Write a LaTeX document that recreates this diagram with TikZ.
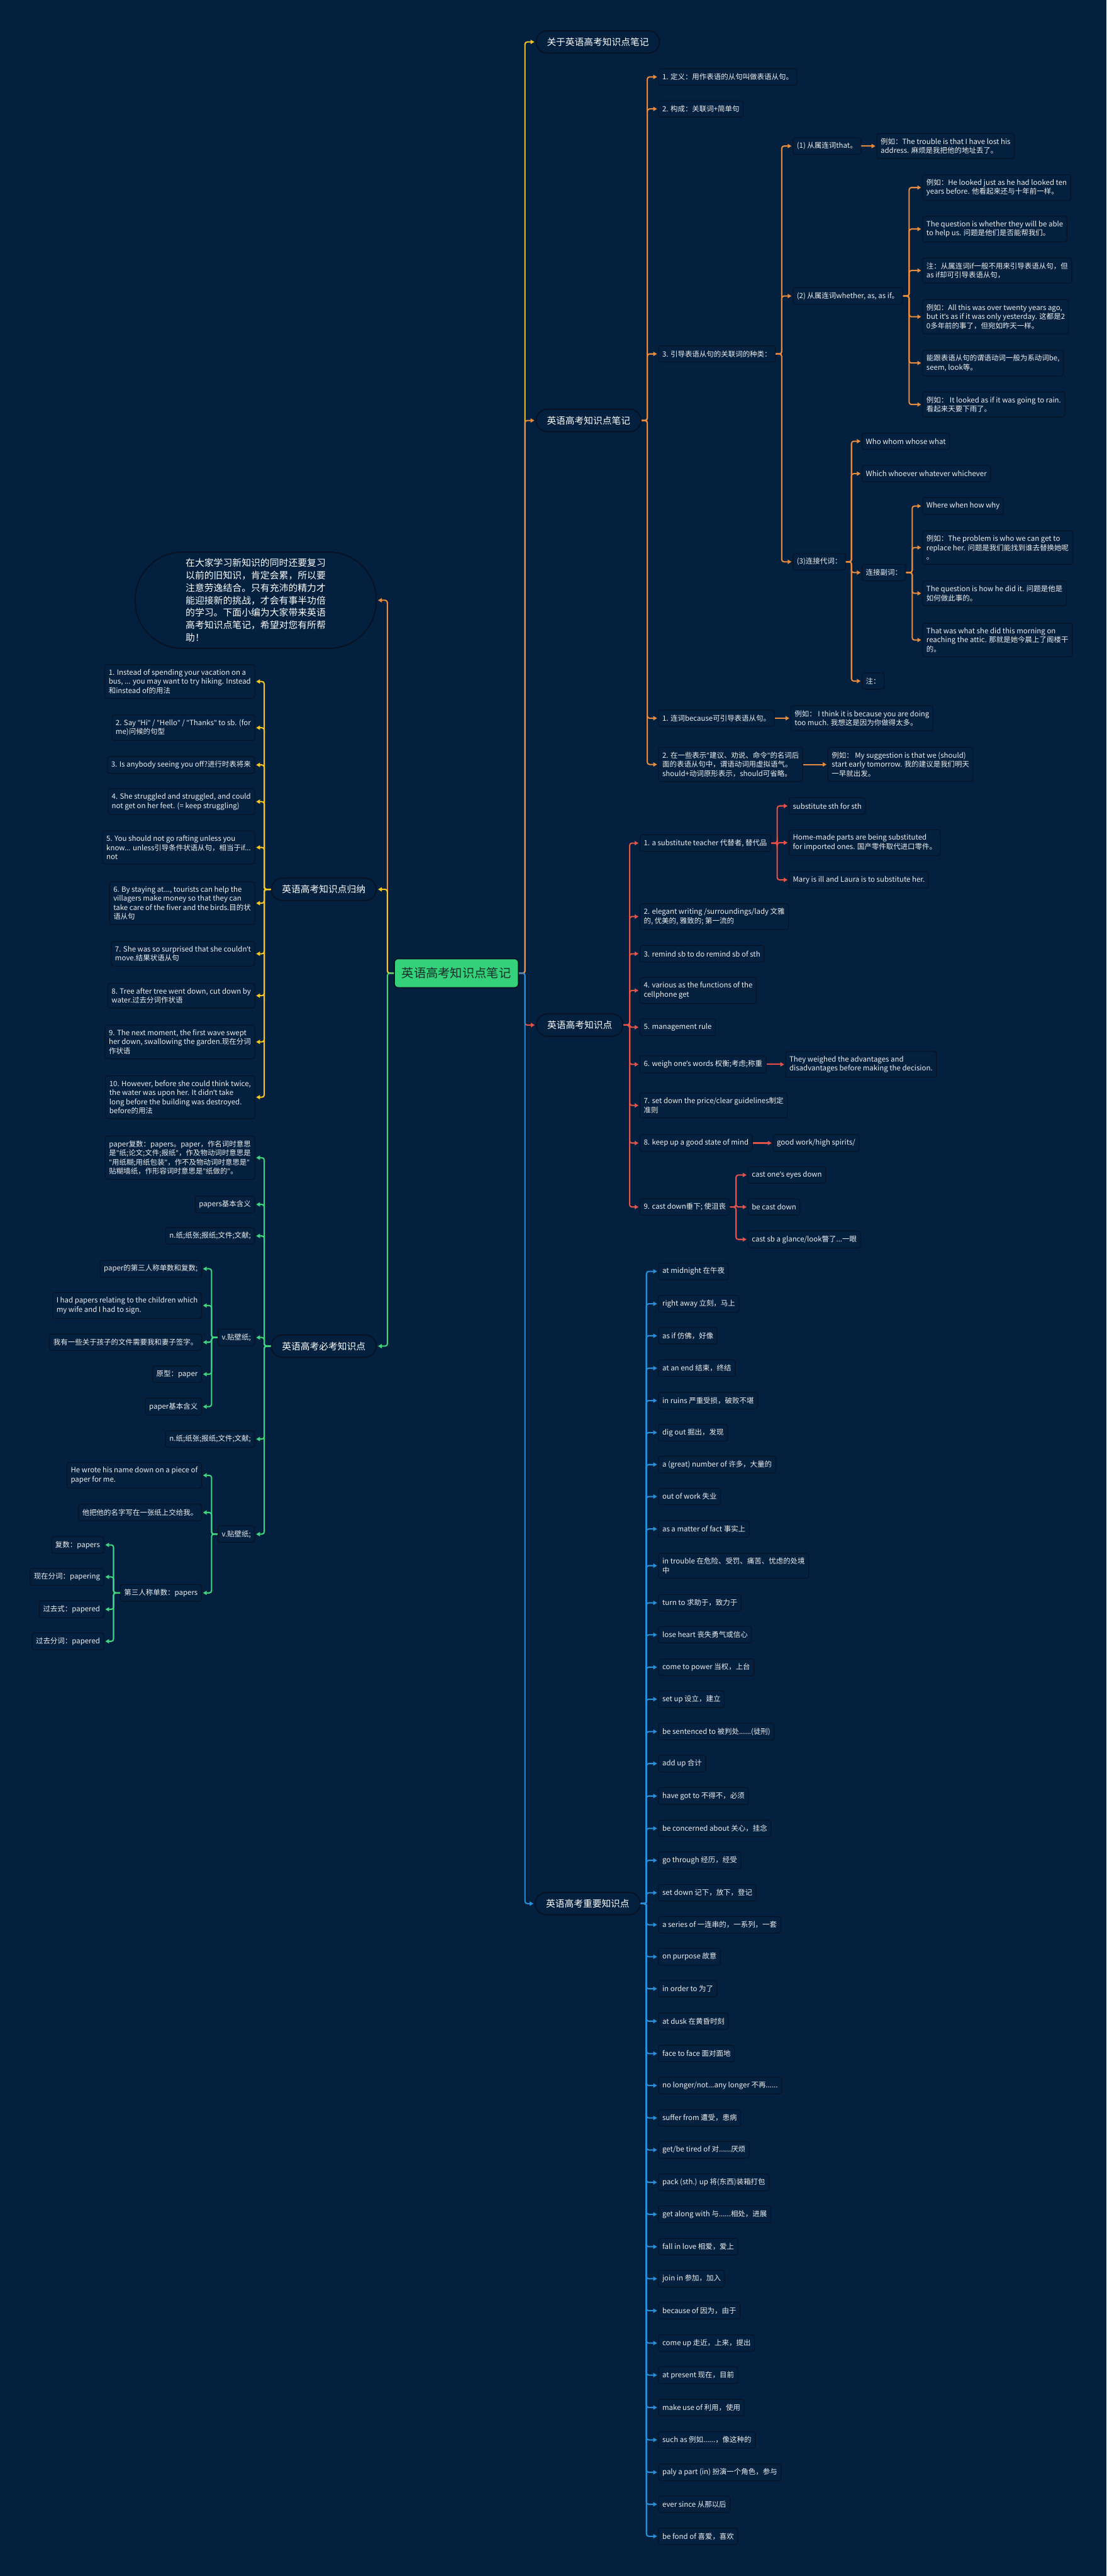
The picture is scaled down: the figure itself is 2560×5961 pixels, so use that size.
\documentclass[tikz,border=0pt]{standalone}
\usepackage{fontspec}
\setmainfont{Noto Sans CJK SC}
\newfontfamily\mmlatin{Noto Sans}
\usetikzlibrary{arrows.meta}

\definecolor{mmbg}{RGB}{3,32,62}
\definecolor{mmbox}{RGB}{8,18,34}
\definecolor{mmgreen}{RGB}{52,208,122}
\definecolor{mmink}{RGB}{24,46,40}
\definecolor{mmyellow}{RGB}{246,198,36}
\definecolor{mmorange}{RGB}{234,140,62}
\definecolor{mmred}{RGB}{230,82,72}
\definecolor{mmblue}{RGB}{42,142,216}
\definecolor{mmlime}{RGB}{64,214,128}

\newcommand\mmqt{{\mmlatin "}}
\newcommand\mmap{{\mmlatin ’}}

\tikzset{
  mmroot/.style={draw=mmbox, line width=1.4pt, fill=mmgreen, text=mmink, rounded corners=5pt,
    minimum width=5.74cm, minimum height=1.34cm, font=\fontsize{16}{19}\selectfont},
  mmtopic/.style={draw=mmbox, line width=1.6pt, fill=mmbg, text=white, rounded corners=0.52cm,
    minimum height=1.04cm, inner xsep=0.5cm, font=\fontsize{12.2}{15}\selectfont},
  mmbubble/.style={draw=mmbox, line width=1.6pt, fill=mmbg, text=white, rounded corners=2.2cm,
    minimum width=11.16cm, minimum height=4.46cm, align=left, font=\fontsize{12.3}{16.4}\selectfont},
  mmleaf/.style={draw=mmbox, line width=0.9pt, fill=mmbg, text=white!94!black, rounded corners=3pt,
    minimum height=0.76cm, inner xsep=5pt, inner ysep=6pt, align=left, font=\fontsize{9.5}{12}\selectfont},
  mmlink/.style={line width=1.7pt, rounded corners=3pt, -{Triangle[length=5pt,width=5.5pt]}, shorten >=1.5pt}
}

\begin{document}
\begin{tikzpicture}[x=0.02cm, y=-0.02cm]
\fill[mmbg] (0,0) rectangle (2560,5961);
\useasboundingbox (0,0) rectangle (2560,5961);

% root and main topics
\node[mmroot] (r) at (1056,2252) {英语高考知识点笔记};
\node[mmtopic, anchor=west] (t1) at (1239,97) {关于英语高考知识点笔记};
\node[mmtopic, anchor=west] (t2) at (1239,973) {英语高考知识点笔记};
\node[mmtopic, anchor=west] (t3) at (1240,2372) {英语高考知识点};
\node[mmtopic, anchor=west] (t4) at (1237,4405) {英语高考重要知识点};
\node[mmbubble, anchor=east] (t5) at (872,1389) {在大家学习新知识的同时还要复习\\以前的旧知识，肯定会累，所以要\\注意劳逸结合。只有充沛的精力才\\能迎接新的挑战，才会有事半功倍\\的学习。下面小编为大家带来英语\\高考知识点笔记，希望对您有所帮\\助！};
\node[mmtopic, anchor=east] (t6) at (872,2058) {英语高考知识点归纳};
\node[mmtopic, anchor=east] (t7) at (872,3115) {英语高考必考知识点};

\draw[mmlink, mmyellow] (r.east) -- ++(14,0) |- (t1.west);
\draw[mmlink, mmorange] (r.east) -- ++(14,0) |- (t2.west);
\draw[mmlink, mmred] (r.east) -- ++(14,0) |- (t3.west);
\draw[mmlink, mmblue] (r.east) -- ++(14,0) |- (t4.west);
\draw[mmlink, mmorange] (r.west) -- ++(-15,0) |- (t5.east);
\draw[mmlink, mmyellow] (r.west) -- ++(-15,0) |- (t6.east);
\draw[mmlink, mmlime] (r.west) -- ++(-15,0) |- (t7.east);

% orange branch
\node[mmleaf, anchor=west] (n1) at (1523,178) {1. 定义：用作表语的从句叫做表语从句。};
\node[mmleaf, anchor=west] (n2) at (1523,252) {2. 构成：关联词+简单句};
\node[mmleaf, anchor=west] (n3) at (1523,819) {3. 引导表语从句的关联词的种类：};
\node[mmleaf, anchor=west] (n4) at (1523,1662) {1. 连词because可引导表语从句。};
\node[mmleaf, anchor=west] (n5) at (1523,1769) {2. 在一些表示\mmqt 建议、劝说、命令\mmqt 的名词后\\面的表语从句中，谓语动词用虚拟语气。\\should+动词原形表示，should可省略。};
\node[mmleaf, anchor=west] (n31) at (1834,338) {(1) 从属连词that。};
\node[mmleaf, anchor=west] (n32) at (1834,685) {(2) 从属连词whether, as, as if。};
\node[mmleaf, anchor=west] (n33) at (1834,1300) {(3)连接代词：};
\node[mmleaf, anchor=west] (n31a) at (2028,338) {例如：The trouble is that I have lost his\\address. 麻烦是我把他的地址丢了。};
\node[mmleaf, anchor=west] (n32a) at (2134,434) {例如：He looked just as he had looked ten\\years before. 他看起来还与十年前一样。};
\node[mmleaf, anchor=west] (n32b) at (2134,530) {The question is whether they will be able\\to help us. 问题是他们是否能帮我们。};
\node[mmleaf, anchor=west] (n32c) at (2134,626) {注：从属连词if一般不用来引导表语从句，但\\as if却可引导表语从句，};
\node[mmleaf, anchor=west] (n32d) at (2134,733) {例如：All this was over twenty years ago,\\but it\mmap s as if it was only yesterday. 这都是2\\0多年前的事了，但宛如昨天一样。};
\node[mmleaf, anchor=west] (n32e) at (2134,840) {能跟表语从句的谓语动词一般为系动词be,\\seem, look等。};
\node[mmleaf, anchor=west] (n32f) at (2134,936) {例如： It looked as if it was going to rain.\\看起来天要下雨了。};
\node[mmleaf, anchor=west] (n33a) at (1994,1021) {Who whom whose what};
\node[mmleaf, anchor=west] (n33b) at (1994,1096) {Which whoever whatever whichever};
\node[mmleaf, anchor=west] (n33c) at (1994,1325) {连接副词：};
\node[mmleaf, anchor=west] (n33d) at (1994,1576) {注：};
\node[mmleaf, anchor=west] (n33c1) at (2134,1171) {Where when how why};
\node[mmleaf, anchor=west] (n33c2) at (2134,1267) {例如：The problem is who we can get to\\replace her. 问题是我们能找到谁去替换她呢\\。};
\node[mmleaf, anchor=west] (n33c3) at (2134,1373) {The question is how he did it. 问题是他是\\如何做此事的。};
\node[mmleaf, anchor=west] (n33c4) at (2134,1481) {That was what she did this morning on\\reaching the attic. 那就是她今晨上了阁楼干\\的。};
\node[mmleaf, anchor=west] (n4a) at (1829,1662) {例如： I think it is because you are doing\\too much. 我想这是因为你做得太多。};
\node[mmleaf, anchor=west] (n5a) at (1915,1769) {例如： My suggestion is that we (should)\\start early tomorrow. 我的建议是我们明天\\一早就出发。};

\draw[mmlink, mmorange] (t2.east) -- ++(13,0) |- (n1.west);
\draw[mmlink, mmorange] (t2.east) -- ++(13,0) |- (n2.west);
\draw[mmlink, mmorange] (t2.east) -- ++(13,0) |- (n3.west);
\draw[mmlink, mmorange] (t2.east) -- ++(13,0) |- (n4.west);
\draw[mmlink, mmorange] (t2.east) -- ++(13,0) |- (n5.west);
\draw[mmlink, mmorange] (n3.east) -- ++(14,0) |- (n31.west);
\draw[mmlink, mmorange] (n3.east) -- ++(14,0) |- (n32.west);
\draw[mmlink, mmorange] (n3.east) -- ++(14,0) |- (n33.west);
\draw[mmlink, mmorange] (n31.east) -- (n31a.west);
\draw[mmlink, mmorange] (n32.east) -- ++(14,0) |- (n32a.west);
\draw[mmlink, mmorange] (n32.east) -- ++(14,0) |- (n32b.west);
\draw[mmlink, mmorange] (n32.east) -- ++(14,0) |- (n32c.west);
\draw[mmlink, mmorange] (n32.east) -- ++(14,0) |- (n32d.west);
\draw[mmlink, mmorange] (n32.east) -- ++(14,0) |- (n32e.west);
\draw[mmlink, mmorange] (n32.east) -- ++(14,0) |- (n32f.west);
\draw[mmlink, mmorange] (n33.east) -- ++(13,0) |- (n33a.west);
\draw[mmlink, mmorange] (n33.east) -- ++(13,0) |- (n33b.west);
\draw[mmlink, mmorange] (n33.east) -- ++(13,0) |- (n33c.west);
\draw[mmlink, mmorange] (n33.east) -- ++(13,0) |- (n33d.west);
\draw[mmlink, mmorange] (n33c.east) -- ++(14,0) |- (n33c1.west);
\draw[mmlink, mmorange] (n33c.east) -- ++(14,0) |- (n33c2.west);
\draw[mmlink, mmorange] (n33c.east) -- ++(14,0) |- (n33c3.west);
\draw[mmlink, mmorange] (n33c.east) -- ++(14,0) |- (n33c4.west);
\draw[mmlink, mmorange] (n4.east) -- (n4a.west);
\draw[mmlink, mmorange] (n5.east) -- (n5a.west);

% red branch
\node[mmleaf, anchor=west] (k1) at (1480,1951) {1. a substitute teacher 代替者, 替代品};
\node[mmleaf, anchor=west] (k2) at (1480,2121) {2. elegant writing /surroundings/lady 文雅\\的, 优美的, 雅致的; 第一流的};
\node[mmleaf, anchor=west] (k3) at (1480,2207) {3. remind sb to do remind sb of sth};
\node[mmleaf, anchor=west] (k4) at (1480,2292) {4. various as the functions of the\\cellphone get};
\node[mmleaf, anchor=west] (k5) at (1480,2377) {5. management rule};
\node[mmleaf, anchor=west] (k6) at (1480,2463) {6. weigh one\mmap s words 权衡;考虑;称重};
\node[mmleaf, anchor=west] (k7) at (1480,2558) {7. set down the price/clear guidelines制定\\准则};
\node[mmleaf, anchor=west] (k8) at (1480,2645) {8. keep up a good state of mind};
\node[mmleaf, anchor=west] (k9) at (1480,2793) {9. cast down垂下; 使沮丧};
\node[mmleaf, anchor=west] (k1a) at (1825,1865) {substitute sth for sth};
\node[mmleaf, anchor=west] (k1b) at (1825,1950) {Home-made parts are being substituted\\for imported ones. 国产零件取代进口零件。};
\node[mmleaf, anchor=west] (k1c) at (1825,2036) {Mary is ill and Laura is to substitute her.};
\node[mmleaf, anchor=west] (k6a) at (1817,2463) {They weighed the advantages and\\disadvantages before making the decision.};
\node[mmleaf, anchor=west] (k8a) at (1788,2645) {good work/high spirits/};
\node[mmleaf, anchor=west] (k9a) at (1730,2719) {cast one\mmap s eyes down};
\node[mmleaf, anchor=west] (k9b) at (1730,2793) {be cast down};
\node[mmleaf, anchor=west] (k9c) at (1730,2868) {cast sb a glance/look瞥了...一眼};

\draw[mmlink, mmred] (t3.east) -- ++(14,0) |- (k1.west);
\draw[mmlink, mmred] (t3.east) -- ++(14,0) |- (k2.west);
\draw[mmlink, mmred] (t3.east) -- ++(14,0) |- (k3.west);
\draw[mmlink, mmred] (t3.east) -- ++(14,0) |- (k4.west);
\draw[mmlink, mmred] (t3.east) -- ++(14,0) |- (k5.west);
\draw[mmlink, mmred] (t3.east) -- ++(14,0) |- (k6.west);
\draw[mmlink, mmred] (t3.east) -- ++(14,0) |- (k7.west);
\draw[mmlink, mmred] (t3.east) -- ++(14,0) |- (k8.west);
\draw[mmlink, mmred] (t3.east) -- ++(14,0) |- (k9.west);
\draw[mmlink, mmred] (k1.east) -- ++(14,0) |- (k1a.west);
\draw[mmlink, mmred] (k1.east) -- ++(14,0) |- (k1b.west);
\draw[mmlink, mmred] (k1.east) -- ++(14,0) |- (k1c.west);
\draw[mmlink, mmred] (k6.east) -- (k6a.west);
\draw[mmlink, mmred] (k8.east) -- (k8a.west);
\draw[mmlink, mmred] (k9.east) -- ++(14,0) |- (k9a.west);
\draw[mmlink, mmred] (k9.east) -- ++(14,0) |- (k9b.west);
\draw[mmlink, mmred] (k9.east) -- ++(14,0) |- (k9c.west);

% blue branch
\node[mmleaf, anchor=west] (m1) at (1523,2942) {at midnight 在午夜};
\node[mmleaf, anchor=west] (m2) at (1523,3017) {right away 立刻，马上};
\node[mmleaf, anchor=west] (m3) at (1523,3091) {as if 仿佛，好像};
\node[mmleaf, anchor=west] (m4) at (1523,3166) {at an end 结束，终结};
\node[mmleaf, anchor=west] (m5) at (1523,3241) {in ruins 严重受损，破败不堪};
\node[mmleaf, anchor=west] (m6) at (1523,3315) {dig out 掘出，发现};
\node[mmleaf, anchor=west] (m7) at (1523,3389) {a (great) number of 许多，大量的};
\node[mmleaf, anchor=west] (m8) at (1523,3463) {out of work 失业};
\node[mmleaf, anchor=west] (m9) at (1523,3538) {as a matter of fact 事实上};
\node[mmleaf, anchor=west] (m10) at (1523,3623) {in trouble 在危险、受罚、痛苦、忧虑的处境\\中};
\node[mmleaf, anchor=west] (m11) at (1523,3709) {turn to 求助于，致力于};
\node[mmleaf, anchor=west] (m12) at (1523,3783) {lose heart 丧失勇气或信心};
\node[mmleaf, anchor=west] (m13) at (1523,3858) {come to power 当权，上台};
\node[mmleaf, anchor=west] (m14) at (1523,3932) {set up 设立，建立};
\node[mmleaf, anchor=west] (m15) at (1523,4007) {be sentenced to 被判处......(徒刑)};
\node[mmleaf, anchor=west] (m16) at (1523,4081) {add up 合计};
\node[mmleaf, anchor=west] (m17) at (1523,4156) {have got to 不得不，必须};
\node[mmleaf, anchor=west] (m18) at (1523,4231) {be concerned about 关心，挂念};
\node[mmleaf, anchor=west] (m19) at (1523,4305) {go through 经历，经受};
\node[mmleaf, anchor=west] (m20) at (1523,4380) {set down 记下，放下，登记};
\node[mmleaf, anchor=west] (m21) at (1523,4454) {a series of 一连串的，一系列，一套};
\node[mmleaf, anchor=west] (m22) at (1523,4528) {on purpose 故意};
\node[mmleaf, anchor=west] (m23) at (1523,4602) {in order to 为了};
\node[mmleaf, anchor=west] (m24) at (1523,4677) {at dusk 在黄昏时刻};
\node[mmleaf, anchor=west] (m25) at (1523,4752) {face to face 面对面地};
\node[mmleaf, anchor=west] (m26) at (1523,4826) {no longer/not...any longer 不再......};
\node[mmleaf, anchor=west] (m27) at (1523,4901) {suffer from 遭受，患病};
\node[mmleaf, anchor=west] (m28) at (1523,4975) {get/be tired of 对......厌烦};
\node[mmleaf, anchor=west] (m29) at (1523,5050) {pack (sth.) up 将(东西)装箱打包};
\node[mmleaf, anchor=west] (m30) at (1523,5124) {get along with 与......相处，进展};
\node[mmleaf, anchor=west] (m31) at (1523,5199) {fall in love 相爱，爱上};
\node[mmleaf, anchor=west] (m32) at (1523,5273) {join in 参加，加入};
\node[mmleaf, anchor=west] (m33) at (1523,5347) {because of 因为，由于};
\node[mmleaf, anchor=west] (m34) at (1523,5422) {come up 走近，上来，提出};
\node[mmleaf, anchor=west] (m35) at (1523,5496) {at present 现在，目前};
\node[mmleaf, anchor=west] (m36) at (1523,5571) {make use of 利用，使用};
\node[mmleaf, anchor=west] (m37) at (1523,5646) {such as 例如......，像这种的};
\node[mmleaf, anchor=west] (m38) at (1523,5721) {paly a part (in) 扮演一个角色，参与};
\node[mmleaf, anchor=west] (m39) at (1523,5795) {ever since 从那以后};
\node[mmleaf, anchor=west] (m40) at (1523,5869) {be fond of 喜爱，喜欢};

\draw[mmlink, mmblue] (t4.east) -- ++(13,0) |- (m1.west);
\draw[mmlink, mmblue] (t4.east) -- ++(13,0) |- (m2.west);
\draw[mmlink, mmblue] (t4.east) -- ++(13,0) |- (m3.west);
\draw[mmlink, mmblue] (t4.east) -- ++(13,0) |- (m4.west);
\draw[mmlink, mmblue] (t4.east) -- ++(13,0) |- (m5.west);
\draw[mmlink, mmblue] (t4.east) -- ++(13,0) |- (m6.west);
\draw[mmlink, mmblue] (t4.east) -- ++(13,0) |- (m7.west);
\draw[mmlink, mmblue] (t4.east) -- ++(13,0) |- (m8.west);
\draw[mmlink, mmblue] (t4.east) -- ++(13,0) |- (m9.west);
\draw[mmlink, mmblue] (t4.east) -- ++(13,0) |- (m10.west);
\draw[mmlink, mmblue] (t4.east) -- ++(13,0) |- (m11.west);
\draw[mmlink, mmblue] (t4.east) -- ++(13,0) |- (m12.west);
\draw[mmlink, mmblue] (t4.east) -- ++(13,0) |- (m13.west);
\draw[mmlink, mmblue] (t4.east) -- ++(13,0) |- (m14.west);
\draw[mmlink, mmblue] (t4.east) -- ++(13,0) |- (m15.west);
\draw[mmlink, mmblue] (t4.east) -- ++(13,0) |- (m16.west);
\draw[mmlink, mmblue] (t4.east) -- ++(13,0) |- (m17.west);
\draw[mmlink, mmblue] (t4.east) -- ++(13,0) |- (m18.west);
\draw[mmlink, mmblue] (t4.east) -- ++(13,0) |- (m19.west);
\draw[mmlink, mmblue] (t4.east) -- ++(13,0) |- (m20.west);
\draw[mmlink, mmblue] (t4.east) -- ++(13,0) |- (m21.west);
\draw[mmlink, mmblue] (t4.east) -- ++(13,0) |- (m22.west);
\draw[mmlink, mmblue] (t4.east) -- ++(13,0) |- (m23.west);
\draw[mmlink, mmblue] (t4.east) -- ++(13,0) |- (m24.west);
\draw[mmlink, mmblue] (t4.east) -- ++(13,0) |- (m25.west);
\draw[mmlink, mmblue] (t4.east) -- ++(13,0) |- (m26.west);
\draw[mmlink, mmblue] (t4.east) -- ++(13,0) |- (m27.west);
\draw[mmlink, mmblue] (t4.east) -- ++(13,0) |- (m28.west);
\draw[mmlink, mmblue] (t4.east) -- ++(13,0) |- (m29.west);
\draw[mmlink, mmblue] (t4.east) -- ++(13,0) |- (m30.west);
\draw[mmlink, mmblue] (t4.east) -- ++(13,0) |- (m31.west);
\draw[mmlink, mmblue] (t4.east) -- ++(13,0) |- (m32.west);
\draw[mmlink, mmblue] (t4.east) -- ++(13,0) |- (m33.west);
\draw[mmlink, mmblue] (t4.east) -- ++(13,0) |- (m34.west);
\draw[mmlink, mmblue] (t4.east) -- ++(13,0) |- (m35.west);
\draw[mmlink, mmblue] (t4.east) -- ++(13,0) |- (m36.west);
\draw[mmlink, mmblue] (t4.east) -- ++(13,0) |- (m37.west);
\draw[mmlink, mmblue] (t4.east) -- ++(13,0) |- (m38.west);
\draw[mmlink, mmblue] (t4.east) -- ++(13,0) |- (m39.west);
\draw[mmlink, mmblue] (t4.east) -- ++(13,0) |- (m40.west);

% yellow branch
\node[mmleaf, anchor=east] (s1) at (590,1577) {1. Instead of spending your vacation on a\\bus, ... you may want to try hiking. Instead\\和instead of的用法};
\node[mmleaf, anchor=east] (s2) at (590,1684) {2. Say \mmqt Hi\mmqt{} / \mmqt Hello\mmqt{} / \mmqt Thanks\mmqt{} to sb. (for\\me)问候的句型};
\node[mmleaf, anchor=east] (s3) at (590,1770) {3. Is anybody seeing you off?进行时表将来};
\node[mmleaf, anchor=east] (s4) at (590,1855) {4. She struggled and struggled, and could\\not get on her feet. (= keep struggling)};
\node[mmleaf, anchor=east] (s5) at (590,1961) {5. You should not go rafting unless you\\know... unless引导条件状语从句，相当于if...\\not};
\node[mmleaf, anchor=east] (s6) at (590,2090) {6. By staying at..., tourists can help the\\villagers make money so that they can\\take care of the fiver and the birds.目的状\\语从句};
\node[mmleaf, anchor=east] (s7) at (590,2207) {7. She was so surprised that she couldn\mmap t\\move.结果状语从句};
\node[mmleaf, anchor=east] (s8) at (590,2304) {8. Tree after tree went down, cut down by\\water.过去分词作状语};
\node[mmleaf, anchor=east] (s9) at (590,2411) {9. The next moment, the first wave swept\\her down, swallowing the garden.现在分词\\作状语};
\node[mmleaf, anchor=east] (s10) at (590,2539) {10. However, before she could think twice,\\the water was upon her. It didn\mmap t take\\long before the building was destroyed.\\before的用法};

\draw[mmlink, mmyellow] (t6.west) -- ++(-15,0) |- (s1.east);
\draw[mmlink, mmyellow] (t6.west) -- ++(-15,0) |- (s2.east);
\draw[mmlink, mmyellow] (t6.west) -- ++(-15,0) |- (s3.east);
\draw[mmlink, mmyellow] (t6.west) -- ++(-15,0) |- (s4.east);
\draw[mmlink, mmyellow] (t6.west) -- ++(-15,0) |- (s5.east);
\draw[mmlink, mmyellow] (t6.west) -- ++(-15,0) |- (s6.east);
\draw[mmlink, mmyellow] (t6.west) -- ++(-15,0) |- (s7.east);
\draw[mmlink, mmyellow] (t6.west) -- ++(-15,0) |- (s8.east);
\draw[mmlink, mmyellow] (t6.west) -- ++(-15,0) |- (s9.east);
\draw[mmlink, mmyellow] (t6.west) -- ++(-15,0) |- (s10.east);

% green branch
\node[mmleaf, anchor=east] (g1) at (590,2679) {paper复数：papers。paper，作名词时意思\\是\mmqt 纸;论文;文件;报纸\mmqt ，作及物动词时意思是\\\mmqt 用纸糊;用纸包装\mmqt ，作不及物动词时意思是\mmqt \\贴糊墙纸，作形容词时意思是\mmqt 纸做的\mmqt 。};
\node[mmleaf, anchor=east] (g2) at (590,2787) {papers基本含义};
\node[mmleaf, anchor=east] (g3) at (590,2860) {n.纸;纸张;报纸;文件;文献;};
\node[mmleaf, anchor=east] (g4) at (590,3095) {v.贴壁纸;};
\node[mmleaf, anchor=east] (g5) at (590,3330) {n.纸;纸张;报纸;文件;文献;};
\node[mmleaf, anchor=east] (g6) at (590,3550) {v.贴壁纸;};
\node[mmleaf, anchor=east] (g4a) at (467,2936) {paper的第三人称单数和复数;};
\node[mmleaf, anchor=east] (g4b) at (467,3021) {I had papers relating to the children which\\my wife and I had to sign.};
\node[mmleaf, anchor=east] (g4c) at (467,3106) {我有一些关于孩子的文件需要我和妻子签字。};
\node[mmleaf, anchor=east] (g4d) at (467,3180) {原型：paper};
\node[mmleaf, anchor=east] (g4e) at (467,3255) {paper基本含义};
\node[mmleaf, anchor=east] (g6a) at (467,3414) {He wrote his name down on a piece of\\paper for me.};
\node[mmleaf, anchor=east] (g6b) at (467,3500) {他把他的名字写在一张纸上交给我。};
\node[mmleaf, anchor=east] (g6c) at (467,3686) {第三人称单数：papers};
\node[mmleaf, anchor=east] (g6c1) at (241,3575) {复数：papers};
\node[mmleaf, anchor=east] (g6c2) at (241,3649) {现在分词：papering};
\node[mmleaf, anchor=east] (g6c3) at (241,3724) {过去式：papered};
\node[mmleaf, anchor=east] (g6c4) at (241,3798) {过去分词：papered};

\draw[mmlink, mmlime] (t7.west) -- ++(-15,0) |- (g1.east);
\draw[mmlink, mmlime] (t7.west) -- ++(-15,0) |- (g2.east);
\draw[mmlink, mmlime] (t7.west) -- ++(-15,0) |- (g3.east);
\draw[mmlink, mmlime] (t7.west) -- ++(-15,0) |- (g4.east);
\draw[mmlink, mmlime] (t7.west) -- ++(-15,0) |- (g5.east);
\draw[mmlink, mmlime] (t7.west) -- ++(-15,0) |- (g6.east);
\draw[mmlink, mmlime] (g4.west) -- ++(-14,0) |- (g4a.east);
\draw[mmlink, mmlime] (g4.west) -- ++(-14,0) |- (g4b.east);
\draw[mmlink, mmlime] (g4.west) -- ++(-14,0) |- (g4c.east);
\draw[mmlink, mmlime] (g4.west) -- ++(-14,0) |- (g4d.east);
\draw[mmlink, mmlime] (g4.west) -- ++(-14,0) |- (g4e.east);
\draw[mmlink, mmlime] (g6.west) -- ++(-14,0) |- (g6a.east);
\draw[mmlink, mmlime] (g6.west) -- ++(-14,0) |- (g6b.east);
\draw[mmlink, mmlime] (g6.west) -- ++(-14,0) |- (g6c.east);
\draw[mmlink, mmlime] (g6c.west) -- ++(-15,0) |- (g6c1.east);
\draw[mmlink, mmlime] (g6c.west) -- ++(-15,0) |- (g6c2.east);
\draw[mmlink, mmlime] (g6c.west) -- ++(-15,0) |- (g6c3.east);
\draw[mmlink, mmlime] (g6c.west) -- ++(-15,0) |- (g6c4.east);
\end{tikzpicture}
\end{document}
